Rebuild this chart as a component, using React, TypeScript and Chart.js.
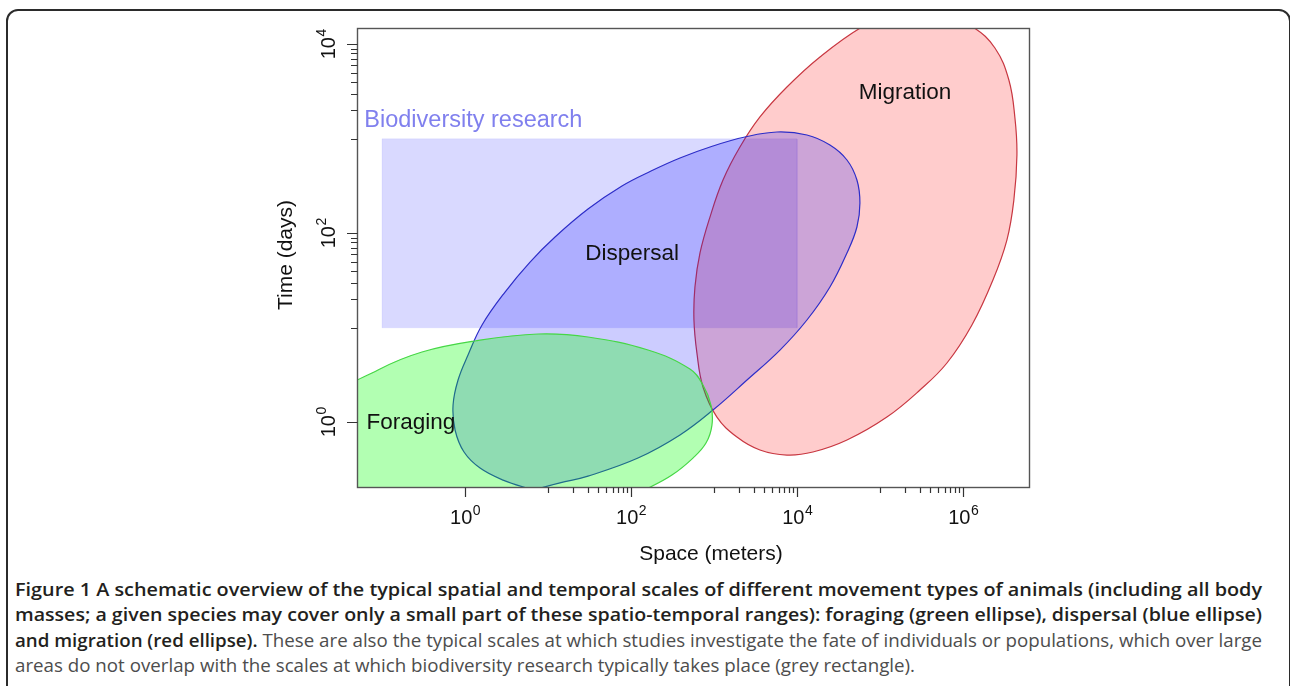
import React, { useEffect, useLayoutEffect, useRef } from 'react';
import { Chart, registerables } from 'chart.js';

Chart.register(...registerables);

// ---------- Data ----------
// Axis ranges: space in meters, time in days (log axes)
const xRange = [0.05, 6.2e6];
const yRange = [0.207, 14880];

// Ticks
const xMajorTicks = [1, 100, 10000, 1000000];
const xMajorExponents = ['0', '2', '4', '6'];
const xMinorTicks = [
  10, 20, 30, 40, 50, 60, 70, 80, 90,
  1000, 2000, 3000, 4000, 5000, 6000, 7000, 8000, 9000,
  100000, 200000, 300000, 400000, 500000, 600000, 700000, 800000, 900000,
];
const yMajorTicks = [1, 100, 10000];
const yMajorExponents = ['0', '2', '4'];
const yMinorTicks = [
  10, 20, 30, 40, 50, 60, 70, 80, 90,
  1000, 2000, 3000, 4000, 5000, 6000, 7000, 8000, 9000,
];

const xTitle = 'Space (meters)';
const yTitle = 'Time (days)';

// Outlines, as log10 exponents (space, time), traced round each shape
const foragingLogX = [-1.866, -1.625, -1.048, -0.518, 0.12, 0.879, 1.481, 2.204, 2.709, 2.866, 2.962, 2.974, 2.902, 2.745, 2.492, 2.204, 1.746, 0.903, -0.301, -1.264, -1.866];
const foragingLogY = [-0.293, 0.236, 0.554, 0.744, 0.861, 0.935, 0.903, 0.765, 0.564, 0.395, 0.183, -0.029, -0.219, -0.378, -0.558, -0.696, -0.875, -0.981, -0.981, -0.823, -0.293];

const dispersalLogX = [0.819, 0.458, 0.181, -0.012, -0.12, -0.144, -0.084, 0.036, 0.205, 0.482, 0.783, 1.084, 1.481, 1.89, 2.24, 2.589, 2.986, 3.371, 3.757, 4.118, 4.395, 4.6, 4.72, 4.756, 4.72, 4.6, 4.395, 4.118, 3.793, 3.396, 2.986, 2.589, 2.083, 1.481, 1.144, 0.819];
const dispersalLogY = [-0.716, -0.611, -0.484, -0.314, -0.081, 0.183, 0.448, 0.712, 1.03, 1.379, 1.696, 1.961, 2.257, 2.501, 2.659, 2.797, 2.924, 3.019, 3.072, 3.04, 2.934, 2.776, 2.564, 2.321, 2.067, 1.792, 1.432, 1.083, 0.765, 0.448, 0.13, -0.134, -0.378, -0.569, -0.641, -0.716];

const migrationLogX = [5.202, 5.683, 6.117, 6.382, 6.55, 6.623, 6.647, 6.61, 6.526, 6.358, 6.105, 5.804, 5.479, 5.081, 4.6, 4.19, 3.877, 3.552, 3.275, 3.034, 2.866, 2.793, 2.757, 2.769, 2.83, 2.95, 3.107, 3.311, 3.552, 3.877, 4.275, 4.78, 5.202];
const migrationLogY = [4.342, 4.363, 4.183, 3.961, 3.622, 3.22, 2.829, 2.352, 1.929, 1.506, 1.03, 0.628, 0.342, 0.056, -0.187, -0.314, -0.346, -0.293, -0.156, 0.056, 0.374, 0.733, 1.083, 1.432, 1.792, 2.172, 2.564, 2.913, 3.231, 3.548, 3.866, 4.183, 4.342];

// Biodiversity research rectangle: space and time bounds
const biodiversitySpace = [0.1, 10000];
const biodiversityTime = [10, 1000];

// Region labels (centre x, baseline y)
const regionLabels = ['Biodiversity research', 'Dispersal', 'Migration', 'Foraging'];
const regionLabelX = [1.26, 103, 199000, 0.223];
const regionLabelY = [1330, 52, 2640, 0.85];

// Caption
const captionBold = [
  'Figure 1 A schematic overview of the typical spatial and temporal scales of different movement types of animals (including all body',
  'masses; a given species may cover only a small part of these spatio-temporal ranges): foraging (green ellipse), dispersal (blue ellipse)',
  'and migration (red ellipse).',
  '',
];
const captionRegular = [
  '',
  '',
  ' These are also the typical scales at which studies investigate the fate of individuals or populations, which over large',
  'areas do not overlap with the scales at which biodiversity research typically takes place (grey rectangle).',
];

// ---------- Layout / style constants ----------
const SANS = '"Liberation Sans", Arial, Helvetica, sans-serif';
const CAPTION_FONT = '"Open Sans", "Noto Sans", sans-serif';
const captionWidths = [1247, 1247, 1247, 900];
const captionTops = [576.5, 602, 627.5, 653];

const toPoints = (lx: number[], ly: number[]) =>
  lx.map((v, i) => ({ x: Math.pow(10, v), y: Math.pow(10, ly[i]) }));

const rectPoints = () => [
  { x: biodiversitySpace[0], y: biodiversityTime[0] },
  { x: biodiversitySpace[0], y: biodiversityTime[1] },
  { x: biodiversitySpace[1], y: biodiversityTime[1] },
  { x: biodiversitySpace[1], y: biodiversityTime[0] },
  { x: biodiversitySpace[0], y: biodiversityTime[0] },
];

const drawPower = (ctx: CanvasRenderingContext2D, cx: number, baseY: number, exp: string) => {
  ctx.font = `20px ${SANS}`;
  const w1 = ctx.measureText('10').width;
  ctx.font = `14px ${SANS}`;
  const w2 = ctx.measureText(exp).width;
  const start = cx - (w1 + w2) / 2;
  ctx.textAlign = 'left';
  ctx.textBaseline = 'alphabetic';
  ctx.font = `20px ${SANS}`;
  ctx.fillText('10', start, baseY);
  ctx.font = `14px ${SANS}`;
  ctx.fillText(exp, start + w1 + 0.5, baseY - 9);
};

const decorations = {
  id: 'decorations',
  afterDatasetsDraw(chart: any) {
    const { ctx } = chart;
    const xs = chart.scales.x;
    const ys = chart.scales.y;
    ctx.save();
    ctx.textAlign = 'center';
    ctx.textBaseline = 'alphabetic';
    regionLabels.forEach((t, i) => {
      ctx.font = i === 0 ? `23.5px ${SANS}` : `22.5px ${SANS}`;
      ctx.fillStyle = i === 0 ? 'rgb(128,128,238)' : '#111';
      ctx.fillText(t, xs.getPixelForValue(regionLabelX[i]), ys.getPixelForValue(regionLabelY[i]));
    });
    ctx.restore();
  },
  afterDraw(chart: any) {
    const { ctx, chartArea: a } = chart;
    const xs = chart.scales.x;
    const ys = chart.scales.y;
    ctx.save();
    // plot frame
    ctx.strokeStyle = '#555';
    ctx.lineWidth = 1.4;
    ctx.strokeRect(a.left + 0.5, a.top + 0.5, a.right - a.left, a.bottom - a.top);
    // ticks
    ctx.strokeStyle = '#333';
    ctx.lineWidth = 1.2;
    ctx.beginPath();
    xMajorTicks.forEach((v) => {
      const p = Math.round(xs.getPixelForValue(v)) + 0.5;
      ctx.moveTo(p, a.bottom + 0.5);
      ctx.lineTo(p, a.bottom + 10);
    });
    xMinorTicks.forEach((v) => {
      const p = Math.round(xs.getPixelForValue(v)) + 0.5;
      ctx.moveTo(p, a.bottom + 0.5);
      ctx.lineTo(p, a.bottom + 6);
    });
    yMajorTicks.forEach((v) => {
      const p = Math.round(ys.getPixelForValue(v)) + 0.5;
      ctx.moveTo(a.left + 0.5, p);
      ctx.lineTo(a.left - 10, p);
    });
    yMinorTicks.forEach((v) => {
      const p = Math.round(ys.getPixelForValue(v)) + 0.5;
      ctx.moveTo(a.left + 0.5, p);
      ctx.lineTo(a.left - 6, p);
    });
    ctx.stroke();
    // tick labels
    ctx.fillStyle = '#111';
    xMajorTicks.forEach((v, i) => drawPower(ctx, xs.getPixelForValue(v), a.bottom + 37, xMajorExponents[i]));
    yMajorTicks.forEach((v, i) => {
      ctx.save();
      ctx.translate(a.left - 22, ys.getPixelForValue(v));
      ctx.rotate(-Math.PI / 2);
      drawPower(ctx, 0, 0, yMajorExponents[i]);
      ctx.restore();
    });
    // axis titles
    ctx.font = `21px ${SANS}`;
    ctx.textAlign = 'center';
    ctx.textBaseline = 'alphabetic';
    ctx.fillText(xTitle, 711, a.bottom + 73);
    ctx.save();
    ctx.translate(292, 255);
    ctx.rotate(-Math.PI / 2);
    ctx.fillText(yTitle, 0, 0);
    ctx.restore();
    ctx.restore();
  },
};

export default function App() {
  const canvasRef = useRef<HTMLCanvasElement | null>(null);
  const lineRefs = useRef<(HTMLSpanElement | null)[]>([]);

  useEffect(() => {
    if (!canvasRef.current) return;
    const common = {
      showLine: true,
      pointRadius: 0,
      pointHoverRadius: 0,
      pointHitRadius: 0,
      borderWidth: 1.2,
      tension: 0.4,
      fill: 'shape',
    };
    const chart = new Chart(canvasRef.current, {
      type: 'scatter',
      data: {
        datasets: [
          {
            ...common,
            label: 'Foraging',
            data: toPoints(foragingLogX, foragingLogY),
            backgroundColor: 'rgba(0,255,0,0.3)',
            borderColor: 'rgb(70,215,70)',
          },
          {
            ...common,
            label: 'Dispersal',
            data: toPoints(dispersalLogX, dispersalLogY),
            backgroundColor: 'rgba(0,0,255,0.2)',
            borderColor: 'rgb(45,45,200)',
          },
          {
            ...common,
            label: 'Migration',
            data: toPoints(migrationLogX, migrationLogY),
            backgroundColor: 'rgba(255,0,0,0.2)',
            borderColor: 'rgb(200,55,65)',
          },
          {
            ...common,
            label: 'Biodiversity research',
            data: rectPoints(),
            tension: 0,
            borderWidth: 1,
            backgroundColor: 'rgba(0,0,255,0.15)',
            borderColor: 'rgba(0,0,255,0.06)',
          },
        ],
      } as any,
      options: {
        animation: false,
        responsive: false,
        maintainAspectRatio: false,
        devicePixelRatio: 1,
        events: [],
        layout: { padding: { left: 357, top: 28, right: 261, bottom: 83 } },
        elements: { line: { capBezierPoints: false, tension: 0.4 } },
        plugins: { legend: { display: false }, tooltip: { enabled: false }, title: { display: false } },
        scales: {
          x: { type: 'logarithmic', min: xRange[0], max: xRange[1], display: false, bounds: 'data' },
          y: { type: 'logarithmic', min: yRange[0], max: yRange[1], display: false, bounds: 'data' },
        },
      } as any,
      plugins: [decorations],
    });
    return () => chart.destroy();
  }, []);

  useLayoutEffect(() => {
    const fit = () => {
      lineRefs.current.forEach((el, i) => {
        if (!el) return;
        el.style.transform = 'none';
        const w = el.getBoundingClientRect().width;
        if (w > 0) el.style.transform = `scaleX(${captionWidths[i] / w})`;
      });
    };
    fit();
    const fonts = (document as any).fonts;
    if (fonts && fonts.ready) fonts.ready.then(fit);
  }, []);

  return (
    <div style={{ position: 'relative', width: 1290, height: 686, overflow: 'hidden', background: '#fff' }}>
      <style>{'html,body{margin:0;padding:0;overflow:hidden;background:#fff}'}</style>
      <div
        style={{
          position: 'absolute',
          left: 6,
          top: 9,
          width: 1285,
          height: 740,
          border: '2px solid #2b2b2b',
          borderRadius: 12,
          boxSizing: 'border-box',
        }}
      />
      <canvas ref={canvasRef} width={1290} height={570} style={{ position: 'absolute', left: 0, top: 0 }} />
      {captionBold.map((b, i) => (
        <div
          key={i}
          style={{
            position: 'absolute',
            left: 15,
            top: captionTops[i],
            height: 25,
            lineHeight: '25px',
            whiteSpace: 'nowrap',
            fontFamily: CAPTION_FONT,
            fontSize: 18,
          }}
        >
          <span
            ref={(el) => {
              lineRefs.current[i] = el;
            }}
            style={{ display: 'inline-block', transformOrigin: '0 0' }}
          >
            {b && <span style={{ fontWeight: 600, color: '#231f20' }}>{b}</span>}
            {captionRegular[i] && <span style={{ fontWeight: 400, color: '#4d4d4d' }}>{captionRegular[i]}</span>}
          </span>
        </div>
      ))}
    </div>
  );
}
